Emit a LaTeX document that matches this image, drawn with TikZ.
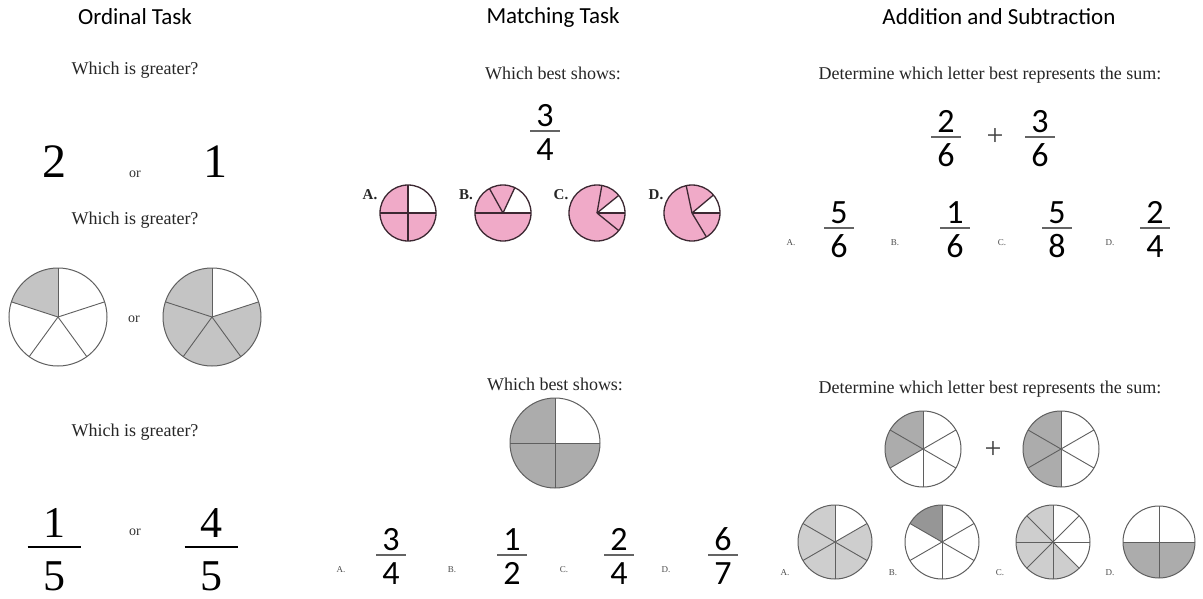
\documentclass[tikz,border=0pt]{standalone}
\usepackage{fontspec}
\setmainfont{Liberation Serif}
\newfontfamily\calfont{Carlito}

\definecolor{pinkfill}{RGB}{240,170,200}
\definecolor{pinkrim}{RGB}{60,40,50}
\definecolor{rimgray}{RGB}{95,95,95}
\definecolor{shadeA}{RGB}{196,196,196}
\definecolor{shadeB}{RGB}{172,172,172}
\definecolor{shadeC}{RGB}{206,206,206}
\definecolor{shadeD}{RGB}{150,150,150}
\definecolor{bargray}{RGB}{100,100,100}

% filled wedge: radius, start angle, end angle, fill colour
\newcommand\sector[4]{\fill[#4] (0,0) -- (#2:#1) arc[start angle=#2,end angle=#3,radius=#1] -- cycle;}
% radii from the centre: radius, list of angles, line style
\newcommand\spokes[3]{\foreach \a in {#2} \draw[#3] (0,0) -- (\a:#1);}
% sans fraction: name, x, bar y, numerator, denominator
\newcommand\sansfrac[5]{%
  \node[sansdigit] (#1n) at (#2,#3-5) {#4};
  \node[sansdigit] (#1d) at (#2,#3+29) {#5};
  \draw[sansbar] (#2-15,#3) -- (#2+15,#3);}
% serif fraction: name, x, bar y, numerator, denominator
\newcommand\seriffrac[5]{%
  \node[serifdigit] (#1n) at (#2,#3-10) {#4};
  \node[serifdigit] (#1d) at (#2,#3+43) {#5};
  \draw[serifbar] (#2-26.5,#3) -- (#2+26.5,#3);}

\begin{document}
\begin{tikzpicture}[x=1pt,y=-1pt,
  every node/.style={inner sep=0pt},
  title/.style={font=\calfont\fontsize{23}{27}\selectfont},
  prompt/.style={font=\fontsize{18}{21}\selectfont, text=black!85},
  bignum/.style={font=\fontsize{48}{52}\selectfont, anchor=base},
  ortext/.style={font=\fontsize{14}{16}\selectfont, anchor=base, text=black!80},
  serifdigit/.style={font=\fontsize{44}{48}\selectfont, anchor=base},
  sansdigit/.style={font=\calfont\fontsize{34}{38}\selectfont, anchor=base},
  sansbar/.style={draw=bargray, line width=2pt},
  serifbar/.style={draw=black, line width=1.4pt},
  optlabel/.style={font=\fontsize{9}{10}\selectfont, text=black!70},
  boldlabel/.style={font=\bfseries\fontsize{15}{17}\selectfont, text=black!85},
  plus/.style={font=\fontsize{30}{32}\selectfont, text=black!75},
  rim/.style={draw=rimgray, line width=1pt},
  spoke/.style={draw=rimgray, line width=0.9pt},
  pinkedge/.style={draw=pinkrim, line width=1.3pt},
]
\useasboundingbox[fill=white] (0,0) rectangle (1203,598);

% ---------- column titles ----------
\node[title] (t1) at (135,17) {Ordinal Task};
\node[title] (t2) at (553,17) {Matching Task};
\node[title] (t3) at (999,17) {Addition and Subtraction};

% ---------- ordinal task ----------
\node[prompt] (o1) at (135,70) {Which is greater?};
\node[bignum] (o1a) at (54,177) {2};
\node[ortext] (o1or) at (135,177) {or};
\node[bignum] (o1b) at (215,177) {1};

\node[prompt] (o2) at (135,220) {Which is greater?};
\begin{scope}[shift={(58,317)},yscale=-1]
  \sector{49}{90}{162}{shadeA}
  \spokes{49}{90,162,234,306,18}{spoke}
  \draw[rim] (0,0) circle[radius=49];
\end{scope}
\node[ortext] (o2or) at (134,322) {or};
\begin{scope}[shift={(212,317)},yscale=-1]
  \sector{49}{90}{378}{shadeA}
  \spokes{49}{90,162,234,306,18}{spoke}
  \draw[rim] (0,0) circle[radius=49];
\end{scope}

\node[prompt] (o3) at (135,432) {Which is greater?};
\seriffrac{of1}{54}{547}{1}{5}
\node[ortext] (o3or) at (135,535) {or};
\seriffrac{of2}{211}{547}{4}{5}

% ---------- matching task ----------
\node[prompt] (m1) at (553,73) {Which best shows:};
\sansfrac{mf0}{545}{131}{3}{4}

\node[boldlabel] (mA) at (370,195) {A.};
\begin{scope}[shift={(408,213)},yscale=-1]
  \sector{28}{90}{360}{pinkfill}
  \spokes{28}{0,90,180,270}{pinkedge}
  \draw[pinkedge] (0,0) circle[radius=28];
\end{scope}
\node[boldlabel] (mB) at (466,195) {B.};
\begin{scope}[shift={(503,213)},yscale=-1]
  \sector{28}{65}{360}{pinkfill}
  \spokes{28}{0,65,119,180}{pinkedge}
  \draw[pinkedge] (0,0) circle[radius=28];
\end{scope}
\node[boldlabel] (mC) at (561,195) {C.};
\begin{scope}[shift={(597,213)},yscale=-1]
  \sector{28}{39}{360}{pinkfill}
  \spokes{28}{0,39,80,-39}{pinkedge}
  \draw[pinkedge] (0,0) circle[radius=28];
\end{scope}
\node[boldlabel] (mD) at (656,195) {D.};
\begin{scope}[shift={(692,213)},yscale=-1]
  \sector{28}{40}{360}{pinkfill}
  \spokes{28}{0,40,102,-59}{pinkedge}
  \draw[pinkedge] (0,0) circle[radius=28];
\end{scope}

\node[prompt] (m2) at (555,384) {Which best shows:};
\begin{scope}[shift={(555,443)},yscale=-1]
  \sector{45}{90}{360}{shadeB}
  \spokes{45}{0,90,180,270}{spoke}
  \draw[rim] (0,0) circle[radius=45];
\end{scope}

\node[optlabel] (ma) at (341,570) {A.};
\sansfrac{mf1}{391}{555}{3}{4}
\node[optlabel] (mb) at (452,570) {B.};
\sansfrac{mf2}{512}{555}{1}{2}
\node[optlabel] (mc) at (564,570) {C.};
\sansfrac{mf3}{619}{555}{2}{4}
\node[optlabel] (md) at (666,570) {D.};
\sansfrac{mf4}{723}{555}{6}{7}

% ---------- addition and subtraction ----------
\node[prompt] (a1) at (990,75) {Determine which letter best represents the sum:};
\sansfrac{af1}{946}{137}{2}{6}
\node[plus] (ap1) at (995,137) {+};
\sansfrac{af2}{1040}{137}{3}{6}

\node[optlabel] (aa) at (791,243) {A.};
\sansfrac{ag1}{839}{228}{5}{6}
\node[optlabel] (ab) at (895,243) {B.};
\sansfrac{ag2}{955}{228}{1}{6}
\node[optlabel] (ac) at (1002,243) {C.};
\sansfrac{ag3}{1057}{228}{5}{8}
\node[optlabel] (ad) at (1110,243) {D.};
\sansfrac{ag4}{1155}{228}{2}{4}

\node[prompt] (a2) at (990,389) {Determine which letter best represents the sum:};
\begin{scope}[shift={(923,449)},yscale=-1]
  \sector{38}{90}{210}{shadeB}
  \spokes{38}{30,90,150,210,270,330}{spoke}
  \draw[rim] (0,0) circle[radius=38];
\end{scope}
\node[plus] (ap2) at (993,450) {+};
\begin{scope}[shift={(1061,449)},yscale=-1]
  \sector{38}{90}{270}{shadeB}
  \spokes{38}{30,90,150,210,270,330}{spoke}
  \draw[rim] (0,0) circle[radius=38];
\end{scope}

\node[optlabel] (pa) at (785,573) {A.};
\begin{scope}[shift={(835,542)},yscale=-1]
  \sector{37}{90}{390}{shadeC}
  \spokes{37}{30,90,150,210,270,330}{spoke}
  \draw[rim] (0,0) circle[radius=37];
\end{scope}
\node[optlabel] (pb) at (893,573) {B.};
\begin{scope}[shift={(942,542)},yscale=-1]
  \sector{37}{90}{150}{shadeD}
  \spokes{37}{30,90,150,210,270,330}{spoke}
  \draw[rim] (0,0) circle[radius=37];
\end{scope}
\node[optlabel] (pc) at (1000,573) {C.};
\begin{scope}[shift={(1053,542)},yscale=-1]
  \sector{37}{90}{315}{shadeC}
  \spokes{37}{0,45,90,135,180,225,270,315}{spoke}
  \draw[rim] (0,0) circle[radius=37];
\end{scope}
\node[optlabel] (pd) at (1110,573) {D.};
\begin{scope}[shift={(1159,542)},yscale=-1]
  \sector{36}{180}{360}{shadeB}
  \spokes{36}{0,90,180,270}{spoke}
  \draw[rim] (0,0) circle[radius=36];
\end{scope}
\end{tikzpicture}
\end{document}
